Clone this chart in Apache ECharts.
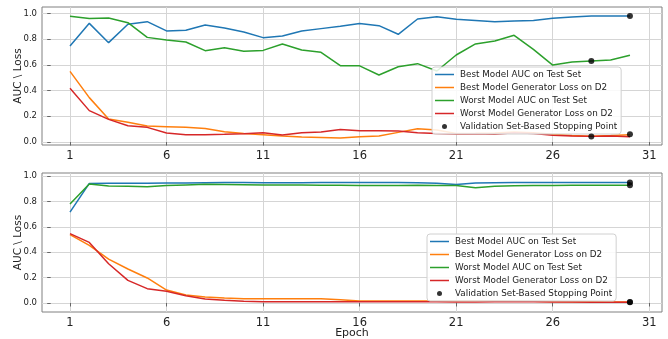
<!DOCTYPE html>
<html>
<head>
<meta charset="utf-8">
<script src="https://cdn.jsdelivr.net/npm/echarts@6/dist/echarts.min.js"></script>
<style>html,body{margin:0;padding:0;background:#fff;}#c{width:668px;height:339px;}</style>
</head>
<body>
<div id="c"></div>
<script>
const epochs = [1,2,3,4,5,6,7,8,9,10,11,12,13,14,15,16,17,18,19,20,21,22,23,24,25,26,27,28,29,30];
const xTicks = [1,6,11,16,21,26,31];
const yTicks = [0,0.2,0.4,0.6,0.8,1.0];
const seriesNames = ['Best Model AUC on Test Set','Best Model Generator Loss on D2','Worst Model AUC on Test Set','Worst Model Generator Loss on D2','Validation Set-Based Stopping Point'];

// Top panel
const bestAUC1 = [0.746,0.922,0.772,0.915,0.935,0.863,0.868,0.909,0.886,0.855,0.811,0.824,0.863,0.881,0.899,0.920,0.904,0.837,0.956,0.974,0.953,0.945,0.935,0.940,0.945,0.961,0.971,0.979,0.979,0.979];
const bestLoss1 = [0.549,0.345,0.179,0.153,0.124,0.119,0.114,0.106,0.080,0.067,0.057,0.047,0.039,0.036,0.031,0.041,0.047,0.075,0.104,0.093,0.067,0.068,0.070,0.078,0.072,0.060,0.050,0.045,0.050,0.057];
const worstAUC1 = [0.977,0.959,0.964,0.927,0.813,0.793,0.777,0.710,0.733,0.705,0.712,0.762,0.715,0.697,0.593,0.592,0.521,0.585,0.609,0.552,0.676,0.762,0.785,0.829,0.720,0.598,0.622,0.630,0.637,0.674];
const worstLoss1 = [0.417,0.244,0.176,0.127,0.114,0.070,0.057,0.057,0.060,0.065,0.072,0.054,0.072,0.078,0.098,0.088,0.088,0.085,0.072,0.067,0.062,0.065,0.060,0.073,0.067,0.052,0.047,0.044,0.047,0.041];
const stopX1 = [30,28,28,30];
const stopY1 = [0.979,0.630,0.044,0.060];

// Bottom panel
const bestAUC2 = [0.716,0.942,0.943,0.944,0.944,0.945,0.946,0.948,0.949,0.949,0.948,0.948,0.947,0.949,0.950,0.950,0.950,0.949,0.947,0.944,0.934,0.945,0.947,0.949,0.950,0.950,0.950,0.950,0.950,0.950];
const bestLoss2 = [0.538,0.454,0.346,0.268,0.197,0.102,0.063,0.047,0.040,0.034,0.034,0.034,0.034,0.034,0.026,0.016,0.016,0.016,0.016,0.016,0.016,0.018,0.017,0.016,0.014,0.012,0.010,0.009,0.008,0.008];
const worstAUC2 = [0.779,0.937,0.921,0.919,0.916,0.925,0.930,0.935,0.934,0.932,0.930,0.930,0.929,0.928,0.927,0.926,0.926,0.926,0.927,0.926,0.925,0.908,0.920,0.923,0.925,0.926,0.927,0.927,0.927,0.927];
const worstLoss2 = [0.546,0.477,0.309,0.178,0.113,0.092,0.057,0.031,0.021,0.013,0.010,0.010,0.010,0.009,0.009,0.009,0.009,0.009,0.009,0.009,0.008,0.008,0.009,0.010,0.009,0.008,0.007,0.006,0.005,0.005];
const stopX2 = [30,30,30,30];
const stopY2 = [0.950,0.927,0.008,0.005];

const colors = ['#1f77b4','#ff7f0e','#2ca02c','#d62728'];
const FONT = 'DejaVu Sans';
const LINE_ICON = 'path://M0,0 L38,0 L38,3 L0,3 Z';

function lineSeries(name, vals, color, idx) {
  return {
    name: name, type: 'line', xAxisIndex: idx, yAxisIndex: idx,
    data: epochs.map((e, i) => [e, vals[i]]),
    symbol: 'none', showSymbol: false, lineStyle: {color: color, width: 1.5}, itemStyle: {color: color},
    animation: false, silent: true
  };
}
function scatterSeries(xs, ys, idx) {
  return {
    name: seriesNames[4], type: 'scatter', xAxisIndex: idx, yAxisIndex: idx,
    data: xs.map((x, i) => [x, ys[i]]), symbolSize: 6,
    itemStyle: {color: '#000'}, z: 10, animation: false, silent: true
  };
}
function xAxisCfg(idx, withName) {
  const a = {
    type: 'value', gridIndex: idx, min: -0.45, max: 31.66,
    axisLine: {show: false},
    axisTick: {show: true, length: 3.5, lineStyle: {color: '#666'}, customValues: xTicks},
    axisLabel: {customValues: xTicks, fontSize: 11.5, color: '#222', fontFamily: FONT, margin: 5},
    splitLine: {show: true, lineStyle: {color: '#d5d5d5', width: 1}}
  };
  if (withName) {
    a.name = 'Epoch'; a.nameLocation = 'middle'; a.nameGap = 16; a.nameMoveOverlap = false;
    a.nameTextStyle = {fontSize: 11, color: '#222', fontFamily: FONT};
  }
  return a;
}
function yAxisCfg(idx, min, max) {
  return {
    type: 'value', gridIndex: idx, min: min, max: max,
    name: 'AUC \\ Loss', nameLocation: 'middle', nameGap: 18, nameMoveOverlap: false,
    nameTextStyle: {fontSize: 10.5, color: '#222', fontFamily: FONT},
    axisLine: {show: false},
    axisTick: {show: true, length: 3.5, lineStyle: {color: '#666'}, customValues: yTicks},
    axisLabel: {customValues: yTicks, fontSize: 8.5, color: '#222', fontFamily: FONT, margin: 5,
      formatter: v => v.toFixed(1)},
    splitLine: {show: true, lineStyle: {color: '#d5d5d5', width: 1}}
  };
}
function legendCfg(left, top) {
  return {
    left: left, top: top, orient: 'vertical',
    data: seriesNames.map((n, i) => i === 4 ? {name: n, icon: 'circle'} : {name: n, icon: LINE_ICON}),
    itemWidth: 19, itemHeight: 5, itemGap: 2, symbolKeepAspect: true,
    padding: [2, 4, 2, 3],
    textStyle: {fontSize: 8.8, color: '#222', fontFamily: FONT, lineHeight: 11, padding: [0,0,0,1]},
    backgroundColor: 'rgba(255,255,255,0.85)', borderColor: '#d0d0d0', borderWidth: 1, borderRadius: 3,
    selectedMode: false
  };
}

const chart = echarts.init(document.getElementById('c'), null, {renderer: 'canvas'});
chart.setOption({
  animation: false,
  backgroundColor: '#fff',
  grid: [
    {left: 42, top: 7, width: 620, height: 138, show: true, borderColor: '#808080', borderWidth: 1, backgroundColor: 'transparent', outerBoundsMode: 'none', containLabel: false},
    {left: 42, top: 173, width: 620, height: 139, show: true, borderColor: '#808080', borderWidth: 1, backgroundColor: 'transparent', outerBoundsMode: 'none', containLabel: false}
  ],
  xAxis: [xAxisCfg(0, false), xAxisCfg(1, true)],
  yAxis: [yAxisCfg(0, -0.023, 1.049), yAxisCfg(1, -0.071, 1.024)],
  legend: [legendCfg(432, 67), legendCfg(427, 234)],
  series: [
    lineSeries(seriesNames[0], bestAUC1, colors[0], 0),
    lineSeries(seriesNames[1], bestLoss1, colors[1], 0),
    lineSeries(seriesNames[2], worstAUC1, colors[2], 0),
    lineSeries(seriesNames[3], worstLoss1, colors[3], 0),
    scatterSeries(stopX1, stopY1, 0),
    lineSeries(seriesNames[0], bestAUC2, colors[0], 1),
    lineSeries(seriesNames[1], bestLoss2, colors[1], 1),
    lineSeries(seriesNames[2], worstAUC2, colors[2], 1),
    lineSeries(seriesNames[3], worstLoss2, colors[3], 1),
    scatterSeries(stopX2, stopY2, 1)
  ]
});
</script>
</body>
</html>
